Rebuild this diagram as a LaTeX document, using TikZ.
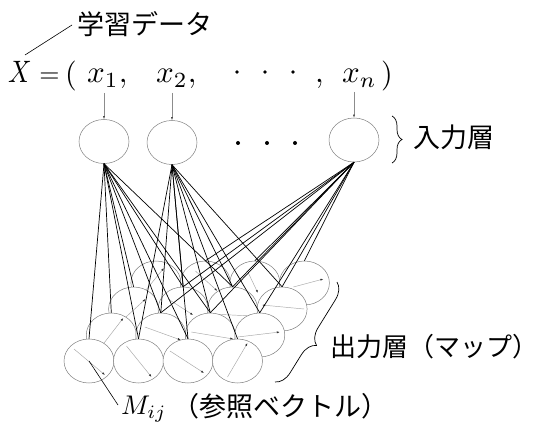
\documentclass[tikz,border=0pt]{standalone}
\usepackage{graphicx}
\usepackage{fontspec}
\newfontfamily\jpfont{Noto Sans CJK JP}
\usetikzlibrary{arrows.meta,decorations.pathreplacing,shapes.geometric,calc}
\begin{document}
\begin{tikzpicture}[x=1pt,y=-1pt,
  neuron/.style={ellipse,draw=black!50,line width=0.5pt,fill=white,minimum width=50pt,minimum height=44pt,inner sep=0pt},
  vec/.style={draw=black!35,line width=0.45pt,-{Latex[length=3pt,width=2pt,color=black!80]}},
  feed/.style={draw=black!45,line width=0.45pt,-{Latex[length=3pt,width=2pt,color=black!70]}},
  conn/.style={draw=black,line width=0.7pt},
  lead/.style={draw=black,line width=0.6pt},
  bracestyle/.style={draw=black,line width=0.7pt,decorate},
  jp/.style={font=\jpfont\fontsize{27}{32}\selectfont,inner sep=0pt},
  fm/.style={inner sep=0pt},
  dotmark/.style={circle,fill=black,inner sep=0pt,minimum size=3.6pt}
]
\useasboundingbox (0,0) rectangle (538,427);

% texts of the formula
\node[jp,anchor=base west] (tdata) at (77,35) {学習データ};
\node[fm,anchor=base] (fX) at (20,83) {\scalebox{2.6}[3.1]{$X$}};
\node[fm,anchor=base] (feq) at (49.5,83) {\scalebox{2.6}{$=$}};
\node[fm,anchor=base] (flp) at (71,84) {\scalebox{3}{$($}};
\node[fm,anchor=base west] (fx1) at (87,83) {\scalebox{3.1}{$x_1,$}};
\node[fm,anchor=base west] (fx2) at (156,83) {\scalebox{3.1}{$x_2,$}};
\node[dotmark] (fd1) at (237,72) {};
\node[dotmark] (fd2) at (265,72) {};
\node[dotmark] (fd3) at (293,72) {};
\node[fm,anchor=base west] (fcm) at (315,83) {\scalebox{3.1}{$,$}};
\node[fm,anchor=base west] (fxn) at (342,83) {\scalebox{3.1}{$x_n$}};
\node[fm,anchor=base] (frp) at (387,84) {\scalebox{3}{$)$}};
\coordinate (ldA) at (25,55);
\coordinate (ldB) at (72,25);
\draw[lead] (ldA) -- (ldB);

% input layer
\node[neuron] (in1) at (104,141.5) {};
\node[neuron] (in2) at (172,142.5) {};
\node[neuron] (in3) at (354,140) {};
\node[dotmark,minimum size=4pt] (id1) at (238,143) {};
\node[dotmark,minimum size=4pt] (id2) at (267,143) {};
\node[dotmark,minimum size=4pt] (id3) at (295,143) {};
\coordinate (s1) at (104,93);
\coordinate (s2) at (172,93);
\coordinate (s3) at (354,92);
\draw[feed] (s1) -- (in1.north);
\draw[feed] (s2) -- (in2.north);
\draw[feed] (s3) -- (in3.north);
\coordinate (ib1) at (392,116);
\coordinate (ib2) at (392,163);
\draw[bracestyle,decoration={brace,amplitude=10pt}] (ib1) -- (ib2);
\node[jp,anchor=base west] (tin) at (413,148) {入力層};

% output layer, back row first
\foreach \r/\vs in {3/{{-14,12,8,-15},{-10,-12,12,8},{-7,-11,3,10},{-11,4,19,-4}},
                    2/{{-12,12,12,-10},{-15,-10,10,6},{-22,5,20,7},{22,0,-20,-4}},
                    1/{{-8,9,12,-17},{-16,-8,20,5},{-19,-3,23,4},{-22,2,20,-3}},
                    0/{{-15,-12,16,14},{-12,-15,13,16},{-18,-10,16,12},{-10,16,10,-18}}}{
  \foreach \v [count=\c from 0] in \vs {
    \node[neuron] (o\r\c) at ({89+22.3*\r+49.5*\c},{361-26*\r}) {};
    \pgfmathsetmacro\ax{{\v}[0]}
    \pgfmathsetmacro\ay{{\v}[1]}
    \pgfmathsetmacro\bx{{\v}[2]}
    \pgfmathsetmacro\by{{\v}[3]}
    \draw[vec] ($(o\r\c)+(\ax,\ay)$) -- ($(o\r\c)+(\bx,\by)$);
  }
}

% connections
\foreach \r in {0,1,2}{
  \foreach \c in {0,1,2}{ \draw[conn] (in1.south) -- (o\r\c.north); }
  \foreach \c in {1,2,3}{ \draw[conn] (in2.south) -- (o\r\c.north); }
}
\foreach \r in {1,2,3}{
  \foreach \c in {1,2,3}{ \draw[conn] (in3.south) -- (o\r\c.north); }
}

% output brace and label
\coordinate (ob1) at (337,282);
\coordinate (ob2) at (275,382);
\draw[bracestyle,decoration={brace,amplitude=16pt,aspect=0.55}] (ob1) -- (ob2);
\node[jp,font=\jpfont\fontsize{26}{30}\selectfont,anchor=base west] (tout) at (330,356) {出力層（マップ）};

% reference vector label
\node[fm,anchor=base west] (mij) at (121,414) {\scalebox{2.7}{$M_{ij}$}};
\node[jp,anchor=base west] (tref) at (172,416) {（参照ベクトル）};
\coordinate (mA) at (118,405);
\draw[lead] (mA) -- (o00.center);
\end{tikzpicture}
\end{document}
